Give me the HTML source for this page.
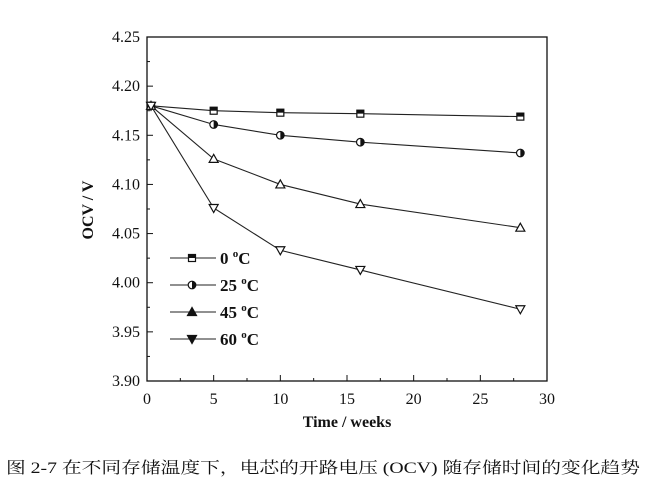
<!DOCTYPE html>
<html><head><meta charset="utf-8"><style>
html,body{margin:0;padding:0;background:#fff;width:658px;height:488px;overflow:hidden}
svg{display:block}
text{font-family:"Liberation Serif","Noto Serif CJK SC",serif;fill:#111}
</style></head><body>
<svg id="chart" width="658" height="488" viewBox="0 0 658 488">
<rect x="147" y="37" width="400" height="344" fill="none" stroke="#111" stroke-width="1.3"/>
<g id="axes"></g>
<g id="series"></g>
<g id="legend"></g>
<text x="93" y="210" font-size="16" font-weight="bold" text-anchor="middle" transform="rotate(-90 93 210)">OCV / V</text>
<text x="347" y="427" font-size="16" font-weight="bold" text-anchor="middle">Time / weeks</text>
<text x="6" y="473" font-size="16" textLength="634" lengthAdjust="spacingAndGlyphs">图 2-7 在不同存储温度下，电芯的开路电压 (OCV) 随存储时间的变化趋势</text>
</svg>
<script>
const weeks=[0.3,5,10,16,28];
const seriesNames=["0 °C","25 °C","45 °C","60 °C"];
const ocv0=[4.18,4.175,4.173,4.172,4.169];
const ocv25=[4.18,4.161,4.150,4.143,4.132];
const ocv45=[4.18,4.126,4.100,4.080,4.056];
const ocv60=[4.18,4.076,4.033,4.013,3.973];
const xTicks=[0,5,10,15,20,25,30];
const yTicks=["3.90","3.95","4.00","4.05","4.10","4.15","4.20","4.25"];
const markers=["square","halfcircle","triangle","invtriangle"];
const NS="http://www.w3.org/2000/svg";
const X=v=>147+(v-0)/30*400;
const Y=v=>381-(v-3.90)/0.35*344;
function mk(tag,attrs,parent){const e=document.createElementNS(NS,tag);for(const k in attrs)e.setAttribute(k,attrs[k]);parent.appendChild(e);return e;}
const axes=document.getElementById('axes');
xTicks.forEach((t,i)=>{
 const l=mk('line',{x1:X(t),x2:X(t),y1:381,y2:375,stroke:'#111','stroke-width':1},axes);
 
 
 if(i<xTicks.length-1){const m=mk('line',{x1:X(t+2.5),x2:X(t+2.5),y1:381,y2:378,stroke:'#111','stroke-width':1},axes);
 
 }
 const tx=mk('text',{x:X(t),y:404,'font-size':16,'text-anchor':'middle'},axes);tx.textContent=t;
 
 
});
yTicks.forEach((t,i)=>{
 const v=parseFloat(t);
 const l=mk('line',{x1:147,x2:153,y1:Y(v),y2:Y(v),stroke:'#111','stroke-width':1},axes);
 
 
 if(i<yTicks.length-1){const m=mk('line',{x1:147,x2:150,y1:Y(v+0.025),y2:Y(v+0.025),stroke:'#111','stroke-width':1},axes);
 
 }
 const tx=mk('text',{x:140,y:Y(v)+5,'font-size':16,'text-anchor':'end'},axes);tx.textContent=t;
 
 
});
function marker(type,cx,cy,parent,filled){
 let e;const f=filled?'#111':'#fff';
 if(type==='square'){e=mk('g',{},parent);mk('rect',{x:cx-3.5,y:cy-3.5,width:7,height:7,fill:'#fff',stroke:'#111','stroke-width':1.2},e);mk('rect',{x:cx-3.5,y:cy-3.5,width:7,height:3.5,fill:'#111'},e);}
 else if(type==='halfcircle'){e=mk('g',{},parent);mk('circle',{cx:cx,cy:cy,r:3.8,fill:'#fff',stroke:'#111','stroke-width':1.2},e);mk('path',{d:`M${cx} ${cy-3.8} A3.8 3.8 0 0 1 ${cx} ${cy+3.8} Z`,fill:'#111'},e);}
 else if(type==='triangle'){e=mk('polygon',{points:`${cx},${cy-4.5} ${cx-4.5},${cy+3.5} ${cx+4.5},${cy+3.5}`,fill:f,stroke:'#111','stroke-width':1.2},parent);}
 else {e=mk('polygon',{points:`${cx},${cy+4.5} ${cx-4.5},${cy-3.5} ${cx+4.5},${cy-3.5}`,fill:f,stroke:'#111','stroke-width':1.2},parent);}
 return e;
}
const sg=document.getElementById('series');
[ocv0,ocv25,ocv45,ocv60].forEach((vals,si)=>{
 const pl=mk('polyline',{points:vals.map((v,i)=>X(weeks[i])+','+Y(v)).join(' '),fill:'none',stroke:'#222','stroke-width':1.1},sg);
 
 
 vals.forEach((v,i)=>{const m=marker(markers[si],X(weeks[i]),Y(v),sg,false);
  
  });
});
const lg=document.getElementById('legend');
seriesNames.forEach((n,i)=>{
 const y=258+i*27;
 const l=mk('line',{x1:170,x2:216,y1:y,y2:y,stroke:'#222','stroke-width':1.1},lg);
 
 
 const m=marker(markers[i],192,y,lg,true);
 
 
 const t=mk('text',{x:220,y:y+6,'font-size':17,'font-weight':'bold'},lg);
 const parts=n.split(' °');
 t.textContent=parts[0]+' ';
 const s=mk('tspan',{dy:-7,'font-size':11},t);s.textContent='o';
 const c=mk('tspan',{dy:7},t);c.textContent='C';
 
 
});
</script>
</body></html>
